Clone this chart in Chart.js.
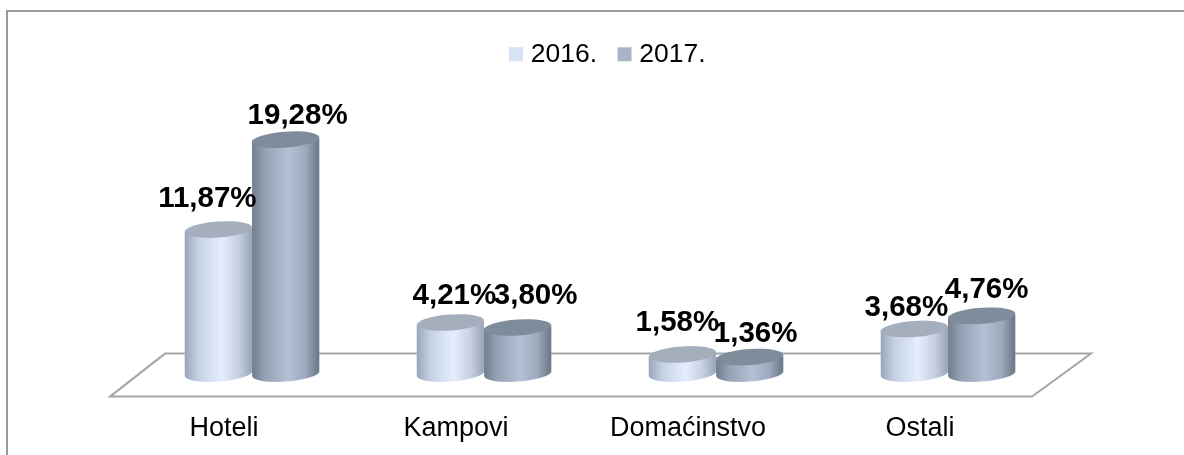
<!DOCTYPE html>
<html>
<head>
<meta charset="utf-8">
<title>Hoteli, Kampovi, Domaćinstvo, Ostali</title>
<script src="https://cdn.jsdelivr.net/npm/chart.js@4"></script>
<style>
html, body { margin: 0; padding: 0; background: #fff; }
#wrap { position: relative; width: 1184px; height: 455px; overflow: hidden; }
#frame { position: absolute; left: 6px; top: 10px; width: 1300px; height: 600px; border: 2px solid #9a9a9a; }
canvas { position: absolute; left: 0; top: 0; }
</style>
</head>
<body>
<div id="wrap">
<div id="frame"></div>
<canvas id="myChart" width="1184" height="488"></canvas>
</div>
<script>
const categories = ['Hoteli', 'Kampovi', 'Domaćinstvo', 'Ostali'];
const series2016 = [11.87, 4.21, 1.58, 3.68];
const series2017 = [19.28, 3.80, 1.36, 4.76];

// hand placement of the value labels, the 3D original does not center them
const labelShift2016 = [[-11, -31], [4, -27], [-5, -32], [-8, -21]];
const labelShift2017 = [[12, -24], [18, -32], [6, -23], [5, -26]];

const looks = [
    { stops: ['#98a6bb', '#c5d0e3', '#e4eefd', '#c6d0e2', '#98a3b8'], cap: '#a5aebd', shift: labelShift2016 },
    { stops: ['#737e8d', '#96a3b6', '#b3c1d5', '#9ca9bc', '#6b7684'], cap: '#7f8c9b', shift: labelShift2017 }
];
const stopAt = [0, 0.2, 0.55, 0.8, 1];

const TILT = -0.07;
const RY = 8;

// floor and cylinders are painted on top of what Chart.js lays out
const cylinders = {
    id: 'cylinders',
    afterLayout(chart) {
        // legend sits a bit right of the plot center in the original
        chart.legend.left += 10;
        chart.legend.right += 10;
    },
    beforeDatasetsDraw(chart) {
        const c = chart.ctx, a = chart.chartArea;
        c.save();
        c.strokeStyle = '#a6a6a6';
        c.lineWidth = 2;
        c.beginPath();
        c.moveTo(a.left - 26, a.bottom + 23);
        c.lineTo(a.right - 32, a.bottom + 23);
        c.lineTo(a.right + 27, a.bottom - 20);
        c.lineTo(a.left + 29, a.bottom - 20);
        c.closePath();
        c.stroke();
        c.restore();
    },
    afterDatasetsDraw(chart) {
        const c = chart.ctx;
        // 2016 first so 2017 overlaps it like in the original
        chart.data.datasets.forEach((ds, i) => {
            const look = looks[i];
            chart.getDatasetMeta(i).data.forEach((bar) => {
                const rx = bar.width / 2;
                const dx = rx * Math.cos(TILT), dy = rx * Math.sin(TILT);
                const g = c.createLinearGradient(bar.x - rx, 0, bar.x + rx, 0);
                look.stops.forEach((col, k) => g.addColorStop(stopAt[k], col));
                c.save();
                c.fillStyle = g;
                c.beginPath();
                c.moveTo(bar.x - dx, bar.y - dy);
                c.lineTo(bar.x - dx, bar.base - dy);
                c.ellipse(bar.x, bar.base, rx, RY, TILT, Math.PI, 0, true);
                c.lineTo(bar.x + dx, bar.y + dy);
                c.closePath();
                c.fill();
                c.fillStyle = look.cap;
                c.beginPath();
                c.ellipse(bar.x, bar.y, rx, RY, TILT, 0, Math.PI * 2);
                c.fill();
                c.restore();
            });
        });
    },
    afterDraw(chart) {
        const c = chart.ctx;
        c.save();
        c.font = 'bold 29.5px "Liberation Sans"';
        c.fillStyle = '#000';
        c.textAlign = 'center';
        c.textBaseline = 'middle';
        chart.data.datasets.forEach((ds, i) => {
            chart.getDatasetMeta(i).data.forEach((bar, j) => {
                const s = looks[i].shift[j];
                const txt = ds.data[j].toFixed(2).replace('.', ',') + '%';
                c.fillText(txt, bar.x + s[0], bar.y + s[1]);
            });
        });
        c.restore();
    }
};

new Chart(document.getElementById('myChart'), {
    type: 'bar',
    data: {
        labels: categories,
        datasets: [
            { label: '2016.', data: series2016, backgroundColor: '#d9e2f3', borderWidth: 0 },
            { label: '2017.', data: series2017, backgroundColor: '#a9b4c8', borderWidth: 0 }
        ]
    },
    options: {
        responsive: false,
        animation: false,
        layout: { padding: { left: 136, right: 120, top: 15, bottom: 12 } },
        datasets: { bar: { categoryPercentage: 0.58, barPercentage: 1 } },
        plugins: {
            tooltip: { enabled: false },
            legend: {
                position: 'top',
                labels: {
                    color: '#000',
                    usePointStyle: true,
                    pointStyle: 'rect',
                    boxWidth: 3,
                    boxHeight: 14,
                    padding: 26,
                    font: { family: 'Liberation Sans', size: 26.5 }
                }
            }
        },
        scales: {
            x: {
                grid: { display: false },
                border: { display: false },
                ticks: {
                    color: '#000',
                    labelOffset: -28,
                    padding: 31,
                    maxRotation: 0,
                    font: { family: 'Liberation Sans', size: 27 }
                }
            },
            y: { display: false, min: 0, max: 24.4 }
        }
    },
    plugins: [cylinders]
});
</script>
</body>
</html>
